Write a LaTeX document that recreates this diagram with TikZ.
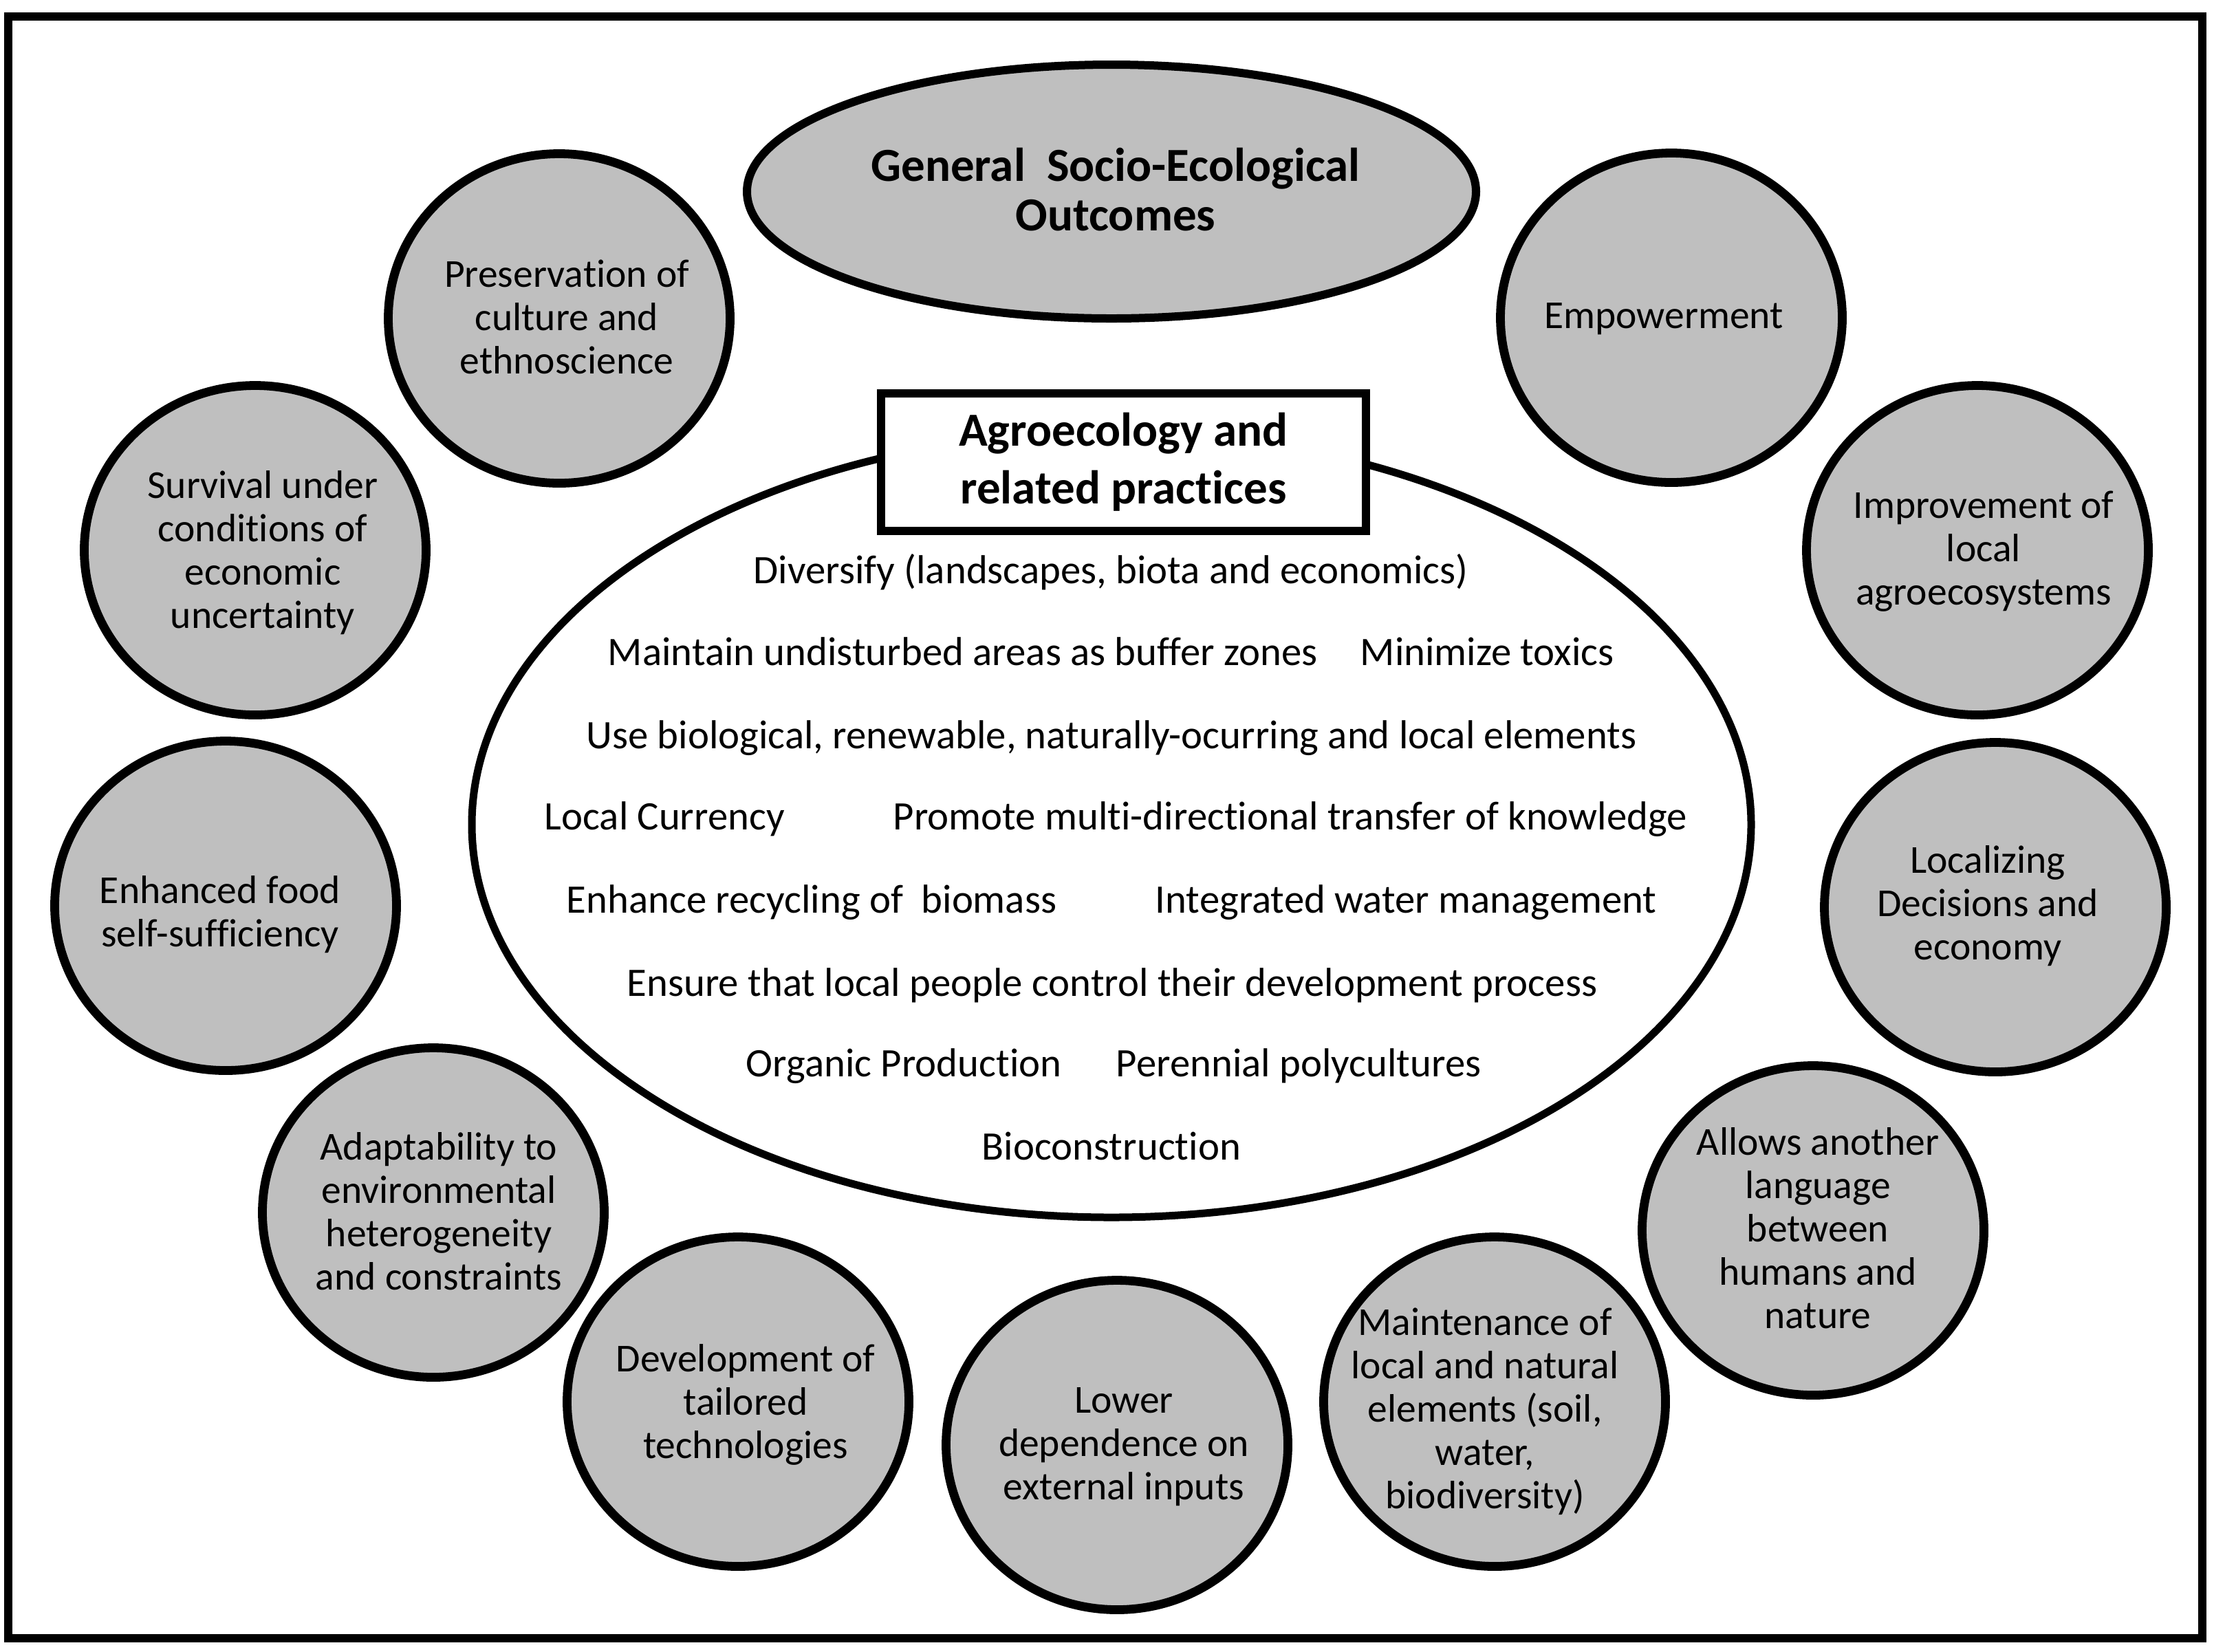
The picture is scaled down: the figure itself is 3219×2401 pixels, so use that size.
\documentclass[tikz,border=0pt]{standalone}
\usepackage{fontspec}
\setmainfont{Carlito}[Ligatures={NoCommon}]
\usetikzlibrary{shapes.geometric}
\definecolor{cgray}{RGB}{191,191,191}
\begin{document}
\begin{tikzpicture}[x=0.25pt,y=-0.25pt,
  outc/.style={ellipse, draw, fill=cgray, line width=3.2pt, minimum width=124.25pt, minimum height=119.75pt, inner sep=0pt},
  otext/.style={align=center, font=\fontsize{14.4}{15.75}\selectfont, inner sep=0pt},
  ptext/.style={font=\fontsize{14.7}{16}\selectfont, inner sep=0pt},
  ttext/.style={align=center, font=\bfseries\fontsize{17.25}{18}\selectfont, inner sep=0pt}
]
\useasboundingbox (0,0) rectangle (3219,2401);
\draw[line width=3pt] (12,24) rectangle (3202,2382);

% general outcomes ellipse
\node[outc, line width=3pt, minimum width=265pt, minimum height=92.25pt] (gen) at (1616,278.5) {};
\node[ttext] (gent) at (1622,276) {General\ \ Socio-Ecological\\Outcomes};

% outcome circles
\node[outc] (c1) at (813,463) {};
\node[otext] (t1) at (824,461) {Preservation of\\culture and\\ethnoscience};
\node[outc] (c2) at (2430,462) {};
\node[otext] (t2) at (2419,464) {Empowerment};
\node[outc] (c3) at (371,800) {};
\node[otext] (t3) at (382,804) {Survival under\\conditions of\\economic\\uncertainty};
\node[outc] (c4) at (2875,800) {};
\node[otext] (t4) at (2884,802) {Improvement of\\local\\agroecosystems};
\node[outc] (c5) at (328,1317) {};
\node[otext] (t5) at (320,1330) {Enhanced food\\self-sufficiency};
\node[outc] (c6) at (2901,1319) {};
\node[otext] (t6) at (2890,1317) {Localizing\\Decisions and\\economy};
\node[outc] (c7) at (630,1763) {};
\node[otext] (t7) at (638,1761) {Adaptability to\\environmental\\heterogeneity\\and constraints};
\node[outc] (c8) at (2636,1789) {};
\node[otext] (t8) at (2643,1786) {Allows another\\language\\between\\humans and\\nature};
\node[outc] (c9) at (1073,2038) {};
\node[otext] (t9) at (1084,2042) {Development of\\tailored\\technologies};
\node[outc] (c10) at (1624,2101) {};
\node[otext] (t10) at (1634,2104) {Lower\\dependence on\\external inputs};
\node[outc] (c11) at (2173,2038) {};
\node[otext] (t11) at (2159,2052) {Maintenance of\\local and natural\\elements (soil,\\water,\\biodiversity)};

% practices ellipse
\node[ellipse, draw, fill=white, line width=2.75pt, minimum width=465pt, minimum height=285.5pt, inner sep=0pt] (prac) at (1616,1199) {};
\node[draw, fill=white, line width=3pt, minimum width=176.25pt, minimum height=50pt, inner sep=0pt, align=center, font=\bfseries\fontsize{17.25}{21}\selectfont] (box) at (1633.5,672) {Agroecology and\\related practices};

\node[ptext, anchor=base] (p1) at (1615,848) {Diversify (landscapes, biota and economics)};
\node[ptext, anchor=base west] (p2) at (883,967) {Maintain undisturbed areas as buffer zones};
\node[ptext, anchor=base west] (p3) at (1977,967) {Minimize toxics};
\node[ptext, anchor=base] (p4) at (1616,1088) {Use biological, renewable, naturally-ocurring and local elements};
\node[ptext, anchor=base west] (p5) at (791,1206) {Local Currency};
\node[ptext, anchor=base west] (p6) at (1298,1206) {Promote multi-directional transfer of knowledge};
\node[ptext, anchor=base west] (p7) at (823,1327) {Enhance recycling of\ \ biomass};
\node[ptext, anchor=base west] (p8) at (1679,1327) {Integrated water management};
\node[ptext, anchor=base] (p9) at (1617,1448) {Ensure that local people control their development process};
\node[ptext, anchor=base west] (p10) at (1084,1565) {Organic Production};
\node[ptext, anchor=base west] (p11) at (1622,1565) {Perennial polycultures};
\node[ptext, anchor=base] (p12) at (1616,1686) {Bioconstruction};
\end{tikzpicture}
\end{document}
